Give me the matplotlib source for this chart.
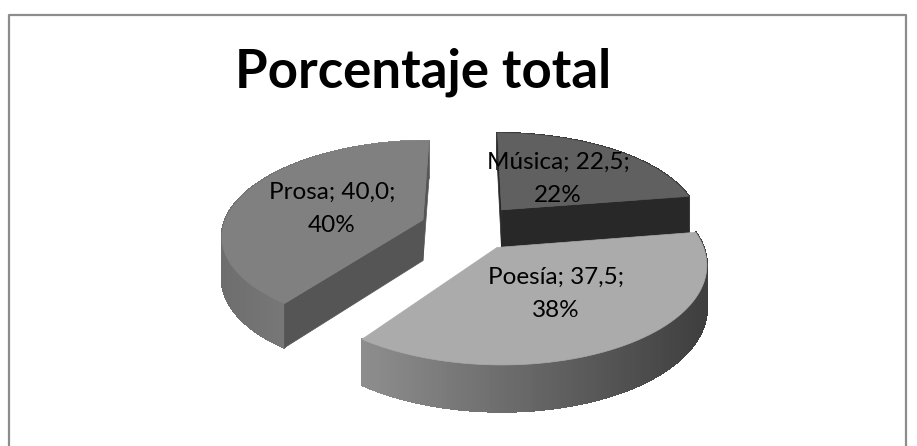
import numpy as np
import matplotlib
matplotlib.use("Agg")
import matplotlib.pyplot as plt
from matplotlib.patches import Polygon

# chart data
categories = ["Música", "Poesía", "Prosa"]
values = [22.5, 37.5, 40.0]
chart_title = "Porcentaje total"

# greys: top face, radial wall, outer wall gradient (left to right)
top_colors = ["#606060", "#ababab", "#808080"]
wall_colors = ["#282828", "#555555", "#555555"]
outer_colors = [("#3a3a3a", "#3a3a3a"), ("#8e8e8e", "#3e3e3e"), ("#6e6e6e", "#8c8c8c")]
# which slices show their cut faces
show_walls = [True, False, True]

# projection of the tilted pie, in pixels
X0, Y0 = 470, 227
A, B = 200, 93
K = 0.15
K_DEPTH = 0.10
HEIGHT = 41
EXPLODE = 0.25


def project(u, v, down=False):
    f = 1 / (1 + K * v)
    x = X0 + A * u * f
    y = Y0 - B * v * f
    if down:
        y = y + HEIGHT / (1 + K_DEPTH * v)
    return x, y


def blend(c1, c2, t):
    rgb1 = np.array(matplotlib.colors.to_rgb(c1))
    rgb2 = np.array(matplotlib.colors.to_rgb(c2))
    return tuple(rgb1 + (rgb2 - rgb1) * t)


def draw_slice(ax, start, end, i):
    mid = (start + end) / 2
    off_u = EXPLODE * np.sin(mid)
    off_v = EXPLODE * np.cos(mid)
    theta = np.linspace(start, end, 120)
    u = off_u + np.sin(theta)
    v = off_v + np.cos(theta)
    xt, yt = project(u, v)
    xb, yb = project(u, v, down=True)
    ax_, ay_ = project(off_u, off_v)
    bx_, by_ = project(off_u, off_v, down=True)

    # outer wall, split in strips for the gradient
    for j in range(len(theta) - 1):
        t = (xt[j] - xt.min()) / (xt.max() - xt.min())
        quad = [(xt[j], yt[j]), (xt[j + 1], yt[j + 1]), (xb[j + 1], yb[j + 1]), (xb[j], yb[j])]
        col = blend(outer_colors[i][0], outer_colors[i][1], t)
        ax.add_patch(Polygon(quad, closed=True, fc=col, ec=col, lw=1.0, antialiased=False))

    # radial walls
    if show_walls[i]:
        for k in [-1, 0]:
            quad = [(ax_, ay_), (xt[k], yt[k]), (xb[k], yb[k]), (bx_, by_)]
            ax.add_patch(Polygon(quad, closed=True, fc=wall_colors[i], ec=wall_colors[i], lw=0.5))

    # top face
    pts = [(ax_, ay_)] + list(zip(xt, yt))
    ax.add_patch(Polygon(pts, closed=True, fc=top_colors[i], ec=top_colors[i], lw=0.5))


fig = plt.figure(figsize=(9.17, 4.46), dpi=100)
ax = fig.add_axes([0, 0, 1, 1])
ax.set_xlim(0, 917)
ax.set_ylim(446, 0)
ax.axis("off")

# chart frame
ax.plot([8.5, 8.5, 906, 906], [446, 14.5, 14.5, 446], color="#8c8c8c", lw=1.6)

# slice angles from the values, clockwise from the top
total = sum(values)
edges = np.concatenate([[0], np.cumsum(values)]) / total * 2 * np.pi

# back slices first
for i in [0, 2, 1]:
    draw_slice(ax, edges[i], edges[i + 1], i)

ax.text(423, 72, chart_title, ha="center", va="center", fontsize=38, fontweight="bold",
        family="Lato", color="black")

label_pos = [(558, 179), (556, 294), (332, 209)]
for i in range(len(categories)):
    pct = values[i] / total * 100
    val = f"{values[i]:.1f}".replace(".", ",")
    label = f"{categories[i]}; {val};\n{pct:.0f}%"
    ax.text(label_pos[i][0], label_pos[i][1], label, ha="center", va="center", fontsize=17.5,
            family="Lato", color="black", linespacing=1.75)

fig.savefig("out.png", dpi=100)
